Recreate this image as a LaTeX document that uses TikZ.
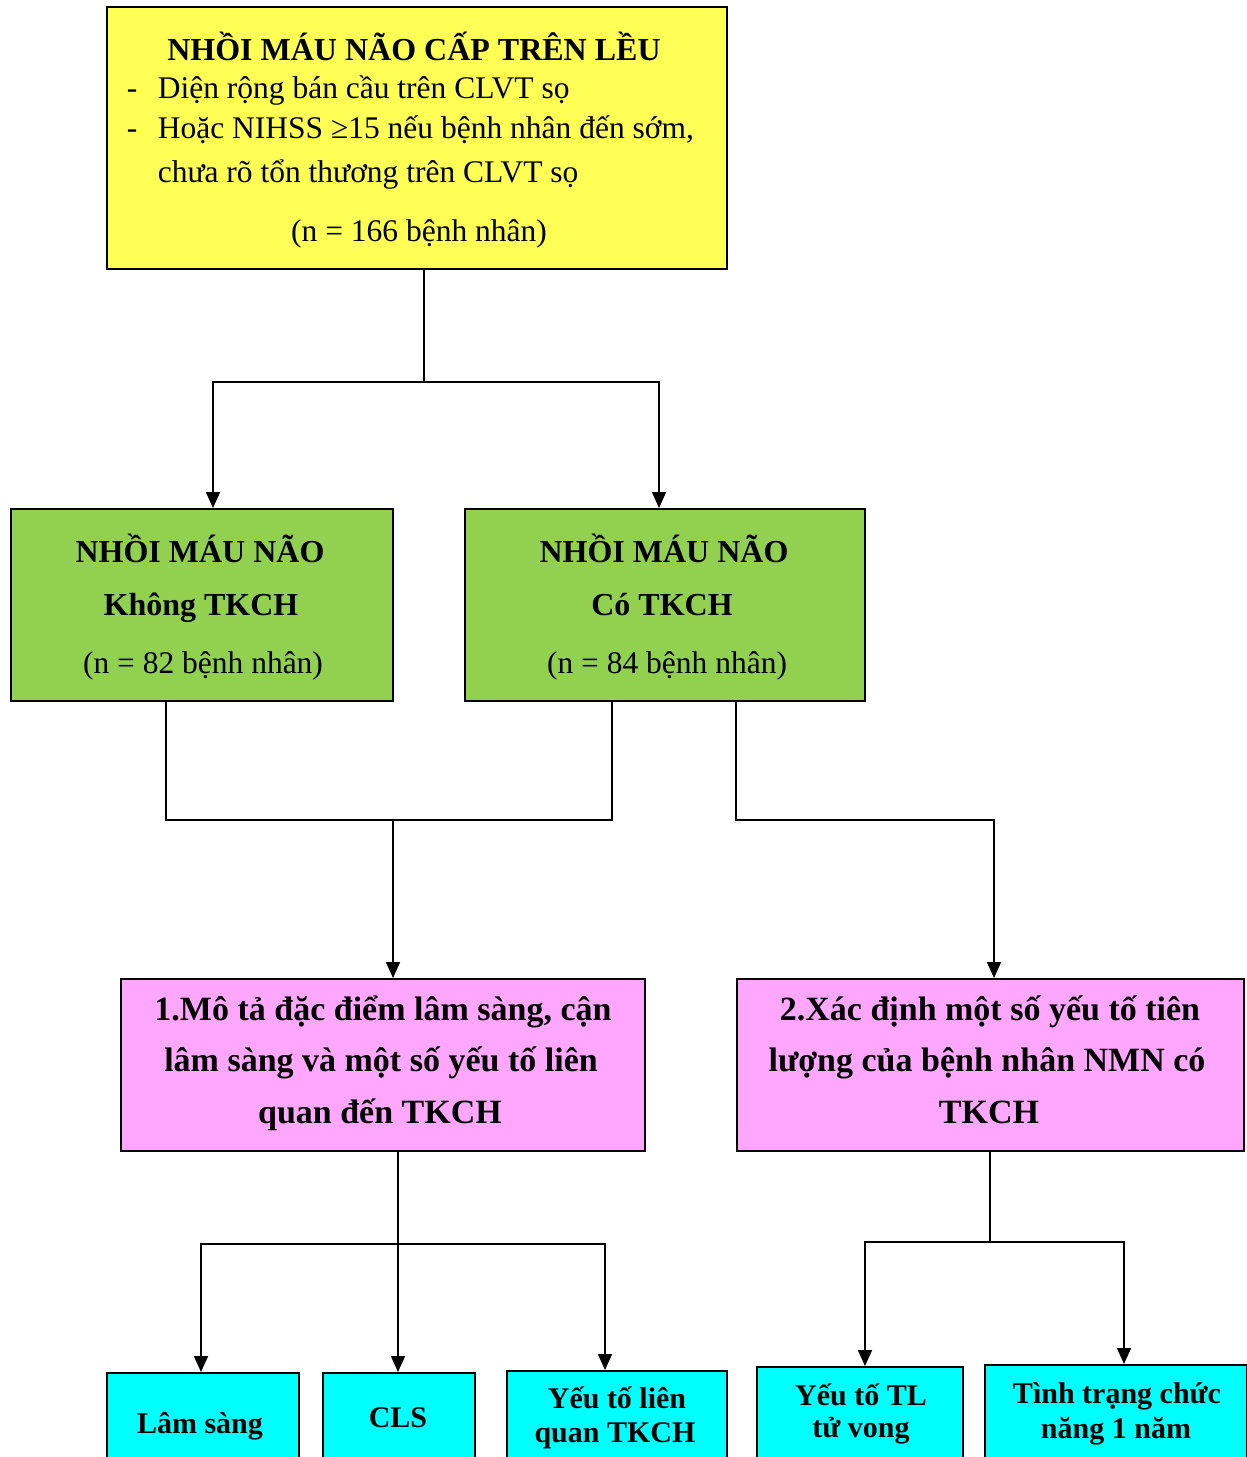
\documentclass[tikz,border=0pt]{standalone}
\usepackage{fontspec}
\setmainfont{Liberation Serif}
\usetikzlibrary{arrows.meta}
\definecolor{boxyellow}{RGB}{255,255,85}
\definecolor{boxgreen}{RGB}{146,208,80}
\definecolor{boxpink}{RGB}{255,166,255}
\definecolor{boxcyan}{RGB}{0,255,255}
\begin{document}
\begin{tikzpicture}[x=1pt,y=-1pt,line width=1.6pt,
  box/.style={draw=black,line width=1.8pt,rectangle,anchor=north west,inner sep=0pt},
  lbl/.style={font=\fontsize{31.5}{34}\selectfont,inner sep=0pt,anchor=base},
  llbl/.style={font=\fontsize{31.5}{34}\selectfont,inner sep=0pt,anchor=base west},
  blbl/.style={font=\bfseries\fontsize{32}{34}\selectfont,inner sep=0pt,anchor=base},
  plbl/.style={font=\bfseries\fontsize{34}{36}\selectfont,inner sep=0pt,anchor=base},
  clbl/.style={font=\bfseries\fontsize{30}{34}\selectfont,inner sep=0pt,anchor=base},
  arr/.style={-{Triangle[length=16pt,width=14pt]}}]
\useasboundingbox (0,0) rectangle (1247,1457);
\clip (0,0) rectangle (1247,1457);
% boxes
\node[box,fill=boxyellow,minimum width=620pt,minimum height=262pt] (top) at (106,6) {};
\node[box,fill=boxgreen,minimum width=382pt,minimum height=192pt] (g1) at (10,508) {};
\node[box,fill=boxgreen,minimum width=400pt,minimum height=192pt] (g2) at (464,508) {};
\node[box,fill=boxpink,minimum width=524pt,minimum height=172pt] (p1) at (120,978) {};
\node[box,fill=boxpink,minimum width=507pt,minimum height=172pt] (p2) at (736,978) {};
\node[box,fill=boxcyan,minimum width=192pt,minimum height=110pt] (c1) at (106,1372) {};
\node[box,fill=boxcyan,minimum width=152pt,minimum height=110pt] (c2) at (322,1372) {};
\node[box,fill=boxcyan,minimum width=220pt,minimum height=110pt] (c3) at (506,1370) {};
\node[box,fill=boxcyan,minimum width=206pt,minimum height=110pt] (c4) at (756,1366) {};
\node[box,fill=boxcyan,minimum width=262pt,minimum height=110pt] (c5) at (984,1364) {};
% texts top
\node[blbl] (t1) at (414,60) {NHỒI MÁU NÃO CẤP TRÊN LỀU};
\node[llbl] (t2a) at (126,98) {-};
\node[llbl] (t2) at (157,98) {Diện rộng bán cầu trên CLVT sọ};
\node[llbl] (t3a) at (126,138) {-};
\node[llbl] (t3) at (157,138) {Hoặc NIHSS ≥15 nếu bệnh nhân đến sớm,};
\node[llbl] (t4) at (157,182) {chưa rõ tổn thương trên CLVT sọ};
\node[lbl] (t5) at (419,241) {(n = 166 bệnh nhân)};
% green texts
\node[blbl] (ga1) at (200,562) {NHỒI MÁU NÃO};
\node[blbl] (ga2) at (201,615) {Không TKCH};
\node[lbl] (ga3) at (203,673) {(n = 82 bệnh nhân)};
\node[blbl] (gb1) at (664,562) {NHỒI MÁU NÃO};
\node[blbl] (gb2) at (662,615) {Có TKCH};
\node[lbl] (gb3) at (667,673) {(n = 84 bệnh nhân)};
% pink texts
\node[plbl] (pa1) at (383,1020) {1.Mô tả đặc điểm lâm sàng, cận};
\node[plbl] (pa2) at (381,1071) {lâm sàng và một số yếu tố liên};
\node[plbl] (pa3) at (380,1123) {quan đến TKCH};
\node[plbl] (pb1) at (990,1020) {2.Xác định một số yếu tố tiên};
\node[plbl] (pb2) at (987,1071) {lượng của bệnh nhân NMN có};
\node[plbl] (pb3) at (989,1123) {TKCH};
% cyan texts
\node[clbl] (ca) at (200,1433) {Lâm sàng};
\node[clbl] (cb) at (398,1427) {CLS};
\node[clbl] (cc1) at (617,1408) {Yếu tố liên};
\node[clbl] (cc2) at (615,1442) {quan TKCH};
\node[clbl] (cd1) at (861,1405) {Yếu tố TL};
\node[clbl] (cd2) at (861,1437) {tử vong};
\node[clbl] (ce1) at (1117,1403) {Tình trạng chức};
\node[clbl] (ce2) at (1116,1438) {năng 1 năm};
% junctions
\coordinate (h1M) at (424,382);
\coordinate (h1L) at (213,382);
\coordinate (h1R) at (659,382);
\coordinate (h2L) at (166,820);
\coordinate (h2R) at (612,820);
\coordinate (h2M) at (393,820);
\coordinate (h3L) at (736,820);
\coordinate (h3R) at (994,820);
\coordinate (h4M) at (398,1244);
\coordinate (h4L) at (201,1244);
\coordinate (h4R) at (605,1244);
\coordinate (h5M) at (990,1242);
\coordinate (h5L) at (865,1242);
\coordinate (h5R) at (1124,1242);
% connectors
\draw (top.south -| h1M) -- (h1M);
\draw[arr] (h1M) -- (h1L) -- (g1.north -| h1L);
\draw[arr] (h1M) -- (h1R) -- (g2.north -| h1R);
\draw (g1.south -| h2L) -- (h2L) -- (h2R) -- (g2.south -| h2R);
\draw[arr] (h2M) -- (p1.north -| h2M);
\draw[arr] (g2.south -| h3L) -- (h3L) -- (h3R) -- (p2.north -| h3R);
\draw[arr] (p1.south -| h4M) -- (c2.north -| h4M);
\draw[arr] (h4M) -- (h4L) -- (c1.north -| h4L);
\draw[arr] (h4M) -- (h4R) -- (c3.north -| h4R);
\draw (p2.south -| h5M) -- (h5M);
\draw[arr] (h5M) -- (h5L) -- (c4.north -| h5L);
\draw[arr] (h5M) -- (h5R) -- (c5.north -| h5R);
\end{tikzpicture}
\end{document}
